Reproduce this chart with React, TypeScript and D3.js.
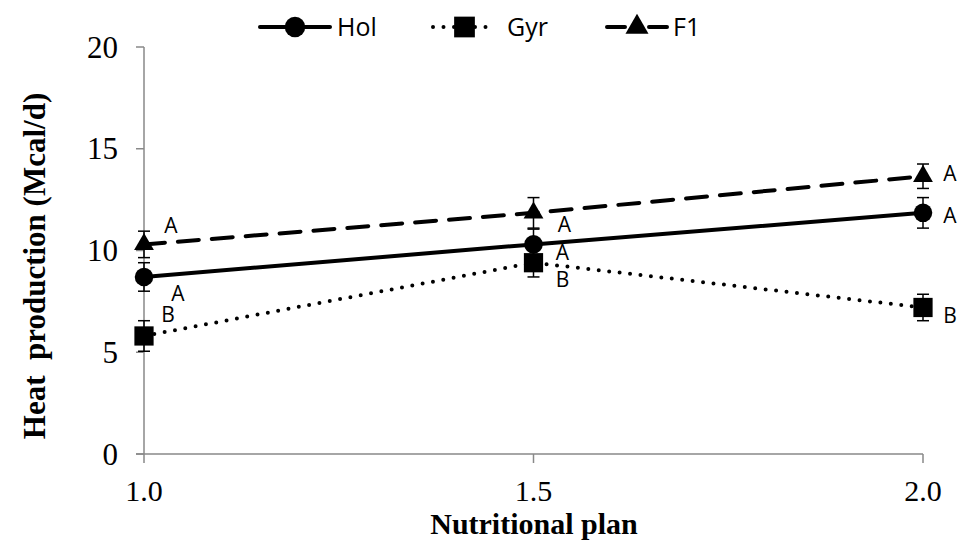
import React, { useEffect, useRef } from 'react';
import * as d3 from 'd3';

const plans = [1.0, 1.5, 2.0];
const holValues = [8.7, 10.3, 11.85];
const gyrValues = [5.8, 9.4, 7.2];
const f1Values = [10.3, 11.85, 13.65];
const holErrors = [0.7, 0.75, 0.75];
const gyrErrors = [0.75, 0.7, 0.65];
const f1Errors = [0.65, 0.75, 0.6];
const holLetters = ['A', 'A', 'A'];
const gyrLetters = ['B', 'B', 'B'];
const f1Letters = ['A', 'A', 'A'];
const yTicks = [0, 5, 10, 15, 20];
const xTicks = [1.0, 1.5, 2.0];

const W = 961, H = 540;
const serif = '"Liberation Serif", "Times New Roman", serif';
const sans = '"Open Sans", "Liberation Sans", sans-serif';

export default function App() {
  const ref = useRef<SVGSVGElement | null>(null);

  useEffect(() => {
    const svg = d3.select(ref.current);
    svg.selectAll('*').remove();

    const x = d3.scaleLinear().domain([1, 2]).range([144, 923]);
    const y = d3.scaleLinear().domain([0, 20]).range([454, 47]);
    const axisColor = '#898989';

    // y axis
    svg.append('line').attr('x1', x(1)).attr('x2', x(1)).attr('y1', y(0)).attr('y2', y(20))
      .attr('stroke', axisColor).attr('stroke-width', 1.5);
    yTicks.forEach(t => {
      svg.append('line').attr('x1', x(1) - 8).attr('x2', x(1)).attr('y1', y(t)).attr('y2', y(t))
        .attr('stroke', axisColor).attr('stroke-width', 1.5);
      svg.append('text').attr('x', 118).attr('y', y(t)).attr('dy', '0.34em')
        .attr('text-anchor', 'end').attr('font-family', serif).attr('font-size', 31)
        .text(String(t));
    });

    // x axis
    svg.append('line').attr('x1', x(1) - 8).attr('x2', x(2)).attr('y1', y(0)).attr('y2', y(0))
      .attr('stroke', axisColor).attr('stroke-width', 1.5);
    xTicks.forEach(t => {
      svg.append('line').attr('x1', x(t)).attr('x2', x(t)).attr('y1', y(0)).attr('y2', y(0) + 9)
        .attr('stroke', axisColor).attr('stroke-width', 1.5);
      svg.append('text').attr('x', x(t)).attr('y', 501)
        .attr('text-anchor', 'middle').attr('font-family', serif).attr('font-size', 30)
        .text(d3.format('.1f')(t));
    });

    svg.append('text').attr('x', 534).attr('y', 534)
      .attr('text-anchor', 'middle').attr('font-family', serif).attr('font-size', 30)
      .attr('font-weight', 'bold').text('Nutritional plan');

    svg.append('text').attr('transform', 'translate(45,266) rotate(-90)')
      .attr('text-anchor', 'middle').attr('font-family', serif).attr('font-size', 31)
      .attr('font-weight', 'bold').attr('xml:space', 'preserve')
      .text('Heat  production (Mcal/d)');

    const series = [
      { name: 'Hol', values: holValues, errors: holErrors, letters: holLetters, dash: null, shape: d3.symbolCircle, size: 270,
        letterOffsets: [[34, 16], [29, 8], [27, 3]] },
      { name: 'Gyr', values: gyrValues, errors: gyrErrors, letters: gyrLetters, dash: '0 10.5', shape: d3.symbolSquare, size: 370,
        letterOffsets: [[24, -22], [29, 17], [27, 8]] },
      { name: 'F1', values: f1Values, errors: f1Errors, letters: f1Letters, dash: '21 13', shape: d3.symbolTriangle, size: 170,
        letterOffsets: [[27, -19], [31, 12], [27, -3]] },
    ];

    const line = d3.line<number>().x((_, i) => x(plans[i])).y(v => y(v));

    series.forEach(s => {
      const p = svg.append('path').attr('d', line(s.values)).attr('fill', 'none')
        .attr('stroke', '#000').attr('stroke-width', 4).attr('stroke-linecap', 'round');
      if (s.dash) p.attr('stroke-dasharray', s.dash);
    });

    series.forEach(s => {
      s.values.forEach((v, i) => {
        const cx = x(plans[i]);
        const lo = y(v - s.errors[i]), hi = y(v + s.errors[i]);
        svg.append('line').attr('x1', cx).attr('x2', cx).attr('y1', lo).attr('y2', hi)
          .attr('stroke', '#000').attr('stroke-width', 1.5);
        [lo, hi].forEach(yy => svg.append('line').attr('x1', cx - 6).attr('x2', cx + 6)
          .attr('y1', yy).attr('y2', yy).attr('stroke', '#000').attr('stroke-width', 1.5));
        svg.append('path').attr('d', d3.symbol().type(s.shape).size(s.size)())
          .attr('transform', `translate(${cx},${y(v)})`).attr('fill', '#000');
        svg.append('text').attr('x', cx + s.letterOffsets[i][0]).attr('y', y(v) + s.letterOffsets[i][1])
          .attr('dy', '0.36em').attr('text-anchor', 'middle').attr('font-family', sans).attr('font-size', 21)
          .text(s.letters[i]);
      });
    });

    // legend
    const legendItems = [
      { s: series[0], x0: 260, x1: 330, tx: 337, dash: null },
      { s: series[1], x0: 433, x1: 496, tx: 507, dash: '0 10.5' },
      { s: series[2], x0: 607, x1: 667, tx: 673, dash: '18 24' },
    ];
    const ly = 27;
    legendItems.forEach(li => {
      const l = svg.append('line').attr('x1', li.x0).attr('x2', li.x1).attr('y1', ly).attr('y2', ly)
        .attr('stroke', '#000').attr('stroke-width', 4).attr('stroke-linecap', 'round');
      if (li.dash) l.attr('stroke-dasharray', li.dash);
      svg.append('path').attr('d', d3.symbol().type(li.s.shape).size(li.s.size + 60)())
        .attr('transform', `translate(${(li.x0 + li.x1) / 2},${ly})`).attr('fill', '#000');
      svg.append('text').attr('x', li.tx).attr('y', ly).attr('dy', '0.36em')
        .attr('font-family', sans).attr('font-size', 25).text(li.s.name);
    });
  }, []);

  return <svg ref={ref} width={W} height={H} style={{ position: 'absolute', left: 0, top: 0, background: '#fff' }} />;
}
